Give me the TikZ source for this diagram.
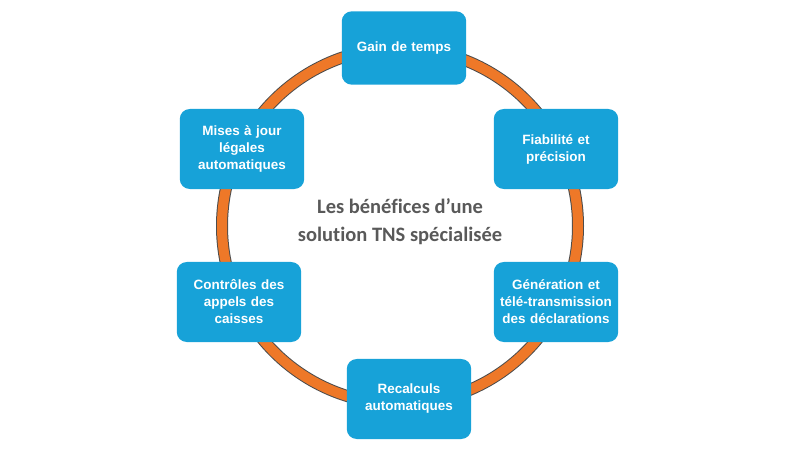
\documentclass[tikz,border=0pt]{standalone}
\usepackage{fontspec}
\setmainfont[Ligatures=NoCommon]{Carlito}
\newfontfamily\boxfont{Liberation Sans}
\usetikzlibrary{positioning}
\definecolor{boxblue}{HTML}{17A2D8}
\definecolor{ringorange}{HTML}{EE7828}
\definecolor{textgray}{HTML}{595959}
\begin{document}
\begin{tikzpicture}[x=0.03cm, y=-0.03cm,
    benefit/.style={fill=boxblue, rounded corners=0.3cm, minimum width=3.7cm,
        minimum height=2.4cm, text width=3.5cm, align=center, text=white,
        font=\boxfont\bfseries\fontsize{11.5}{14.5}\selectfont}]
    \useasboundingbox (0,0) rectangle (800,450);
    % ring
    \draw[black!70, line width=0.36cm] (400,226) circle (178);
    \draw[ringorange, line width=0.3cm] (400,226) circle (178);
    % boxes
    \node[benefit, minimum height=2.2cm] (gain) at (404,48) {Gain de temps};
    \node[benefit] (fiab) at (556,149) {Fiabilité et\\précision};
    \node[benefit] (gene) at (556,302) {Génération et\\télé-transmission\\des déclarations};
    \node[benefit] (recal) at (409,399) {Recalculs\\automatiques};
    \node[benefit] (ctrl) at (239,302) {Contrôles des\\appels des\\caisses};
    \node[benefit] (maj) at (242,149) {Mises à jour\\légales\\automatiques};
    % title
    \node[text=textgray, align=center, font=\bfseries\fontsize{17.5}{24}\selectfont]
        (title) at (400,222) {Les bénéfices d’une\\solution TNS spécialisée};
\end{tikzpicture}
\end{document}
